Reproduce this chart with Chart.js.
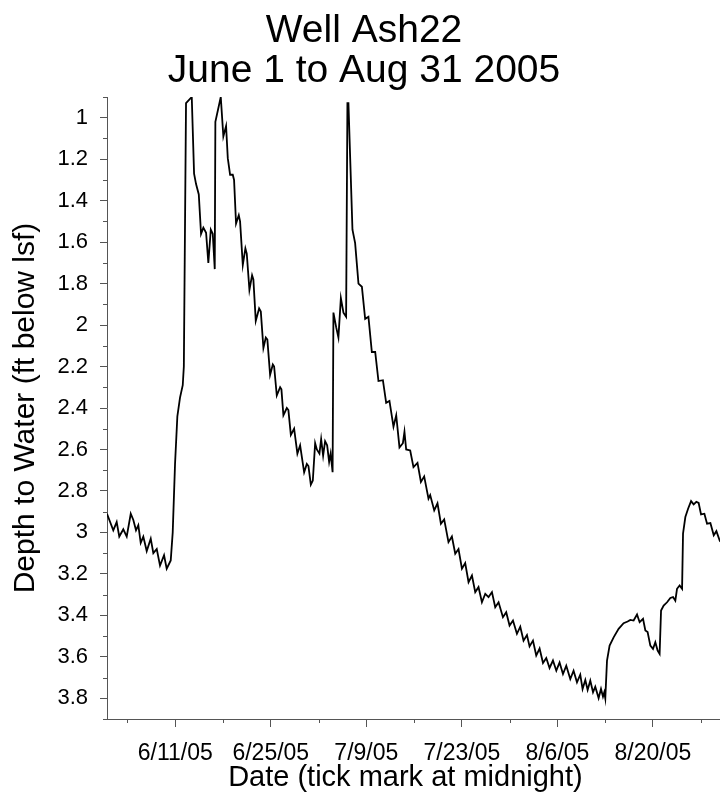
<!DOCTYPE html>
<html>
<head>
<meta charset="utf-8">
<title>Well Ash22</title>
<script src="https://cdn.jsdelivr.net/npm/chart.js@4.4.0/dist/chart.umd.min.js"></script>
<style>
  html, body { margin: 0; padding: 0; background: #fff; overflow: hidden; }
  #wrap { width: 720px; height: 800px; overflow: hidden; }
  canvas { display: block; }
</style>
</head>
<body>
<div id="wrap"><canvas id="chart" width="728" height="800"></canvas></div>
<script>
// days since June 1 2005 00:00 (about two points a day)
const days = [
  0.00, 0.92, 1.42, 1.80, 2.39, 2.89, 3.48, 3.86, 4.25, 4.59,
  4.94, 5.32, 5.82, 6.41, 6.79, 7.29, 7.77, 8.36, 8.75, 9.34,
  9.63, 9.97, 10.31, 10.70, 11.10, 11.26, 11.58, 12.42, 12.76, 13.05,
  13.45, 13.78, 14.12, 14.52, 14.85, 15.21, 15.50, 15.79, 15.88, 16.67,
  17.05, 17.45, 17.70, 18.04, 18.43, 18.62, 18.91, 19.31, 19.50, 19.90,
  20.28, 20.48, 20.87, 21.26, 21.45, 21.80, 22.29, 22.54, 22.92, 23.27,
  23.50, 23.90, 24.30, 24.49, 24.88, 25.37, 25.56, 25.85, 26.35, 26.58,
  26.94, 27.42, 27.90, 28.30, 28.89, 29.28, 29.52, 29.87, 30.16, 30.50,
  30.75, 31.13, 31.38, 31.67, 31.96, 32.26, 32.55, 32.77, 33.06, 33.18,
  33.58, 33.91, 34.27, 34.65, 35.04, 35.23, 35.38, 35.63, 35.97, 36.36,
  36.85, 37.35, 37.83, 38.31, 38.81, 39.30, 39.78, 40.43, 40.91, 41.39,
  41.98, 42.38, 42.86, 43.36, 43.59, 43.84, 44.43, 44.91, 45.50, 46.00,
  46.48, 47.11, 47.36, 47.95, 48.43, 48.93, 49.41, 50.04, 50.54, 51.03,
  51.51, 52.01, 52.49, 52.98, 53.48, 53.96, 54.44, 54.94, 55.43, 55.91,
  56.41, 56.89, 57.38, 58.02, 58.50, 58.99, 59.49, 60.07, 60.56, 61.04,
  61.54, 61.92, 62.42, 62.90, 63.39, 63.89, 64.37, 64.85, 65.35, 65.84,
  66.32, 66.82, 67.30, 67.89, 68.37, 68.87, 69.35, 69.69, 70.09, 70.43,
  70.82, 71.22, 71.55, 72.04, 72.39, 72.68, 72.87, 73.02, 73.27, 73.65,
  74.24, 74.97, 75.70, 76.29, 76.69, 77.17, 77.67, 78.05, 78.55, 78.89,
  79.22, 79.62, 80.01, 80.35, 80.69, 80.98, 81.19, 81.57, 82.07, 82.55,
  82.95, 83.28, 83.53, 83.91, 84.27, 84.41, 84.75, 85.15, 85.59, 85.97,
  86.36, 86.70, 87.05, 87.54, 87.93, 88.42, 88.91, 89.30, 89.78, 90.25
];
// depth to water (ft below lsf)
const depth = [
  2.91, 2.99, 2.95, 3.02, 2.985, 3.02, 2.91, 2.94, 2.99, 2.965,
  3.05, 3.02, 3.09, 3.03, 3.10, 3.08, 3.16, 3.11, 3.175, 3.135,
  3.00, 2.67, 2.44, 2.35, 2.29, 2.20, 0.93, 0.90, 1.27, 1.32,
  1.37, 1.56, 1.53, 1.555, 1.70, 1.54, 1.56, 1.73, 1.02, 0.90,
  1.09, 1.04, 1.195, 1.275, 1.275, 1.30, 1.51, 1.47, 1.50, 1.71,
  1.63, 1.655, 1.83, 1.76, 1.78, 1.98, 1.92, 1.935, 2.11, 2.06,
  2.07, 2.24, 2.19, 2.20, 2.34, 2.30, 2.31, 2.435, 2.40, 2.41,
  2.53, 2.50, 2.62, 2.58, 2.71, 2.67, 2.68, 2.77, 2.75, 2.57,
  2.60, 2.62, 2.55, 2.63, 2.56, 2.58, 2.66, 2.62, 2.71, 1.94,
  2.01, 2.06, 1.87, 1.94, 1.96, 0.93, 0.93, 1.19, 1.54, 1.605,
  1.80, 1.815, 1.97, 1.96, 2.13, 2.13, 2.27, 2.266, 2.375, 2.366,
  2.49, 2.435, 2.59, 2.57, 2.515, 2.60, 2.605, 2.685, 2.665, 2.757,
  2.73, 2.837, 2.82, 2.894, 2.86, 2.958, 2.937, 3.047, 3.02, 3.103,
  3.08, 3.175, 3.148, 3.24, 3.208, 3.288, 3.264, 3.337, 3.296, 3.312,
  3.288, 3.361, 3.337, 3.409, 3.385, 3.449, 3.425, 3.489, 3.455, 3.522,
  3.495, 3.55, 3.522, 3.594, 3.56, 3.63, 3.606, 3.654, 3.618, 3.667,
  3.627, 3.683, 3.643, 3.707, 3.667, 3.723, 3.686, 3.755, 3.712, 3.76,
  3.715, 3.771, 3.744, 3.799, 3.755, 3.792, 3.771, 3.80, 3.618, 3.546,
  3.506, 3.465, 3.438, 3.43, 3.422, 3.425, 3.396, 3.433, 3.417, 3.473,
  3.481, 3.546, 3.562, 3.53, 3.57, 3.586, 3.377, 3.353, 3.337, 3.316,
  3.312, 3.329, 3.272, 3.256, 3.272, 3.006, 2.926, 2.886, 2.849, 2.865,
  2.853, 2.858, 2.913, 2.91, 2.958, 2.955, 3.014, 2.994, 3.039, 3.02
];

// axis ticks
const dateTickDays = [10, 24, 38, 52, 66, 80];
const dateTickLabels = ['6/11/05', '6/25/05', '7/9/05', '7/23/05', '8/6/05', '8/20/05'];
const dateMinorDays = [3, 17, 31, 45, 59, 73, 87];
const depthTicks = [1, 1.2, 1.4, 1.6, 1.8, 2, 2.2, 2.4, 2.6, 2.8, 3, 3.2, 3.4, 3.6, 3.8];
const depthLabels = ['1', '1.2', '1.4', '1.6', '1.8', '2', '2.2', '2.4', '2.6', '2.8', '3', '3.2', '3.4', '3.6', '3.8'];
const depthMinor = [0.9, 1.1, 1.3, 1.5, 1.7, 1.9, 2.1, 2.3, 2.5, 2.7, 2.9, 3.1, 3.3, 3.5, 3.7, 3.9];

const axisColor = '#555555';
const fontFamily = "'Liberation Sans', Arial, sans-serif";

// short minor tick marks, placed through the scales
const minorTicks = {
  id: 'minorTicks',
  afterDraw(chart) {
    const ctx = chart.ctx;
    const x = chart.scales.x;
    const y = chart.scales.y;
    ctx.save();
    ctx.strokeStyle = axisColor;
    ctx.lineWidth = 1;
    ctx.beginPath();
    depthMinor.forEach(v => {
      const py = Math.round(y.getPixelForValue(v)) + 0.5;
      ctx.moveTo(y.right - 4, py);
      ctx.lineTo(y.right, py);
    });
    dateMinorDays.forEach(d => {
      const px = Math.round(x.getPixelForValue(d)) + 0.5;
      ctx.moveTo(px, x.top);
      ctx.lineTo(px, x.top + 4);
    });
    ctx.stroke();
    ctx.restore();
  }
};

let ctx = document.getElementById('chart').getContext('2d');
let chart = new Chart(ctx, {
  type: 'line',
  data: {
    datasets: [{
      label: 'Depth to Water',
      data: days.map((d, i) => ({x: d, y: depth[i]})),
      borderColor: '#000000',
      borderWidth: 1.8,
      pointRadius: 0,
      tension: 0,
      fill: false
    }]
  },
  options: {
    responsive: false,
    animation: false,
    devicePixelRatio: 1,
    layout: { padding: 0 },
    plugins: {
      legend: { display: false },
      tooltip: { enabled: false },
      title: {
        display: true,
        text: ['Well Ash22', 'June 1 to Aug 31 2005'],
        color: '#000',
        font: { family: fontFamily, size: 39, weight: 'normal', lineHeight: '40px' },
        padding: { top: 11, bottom: 6 }
      }
    },
    scales: {
      x: {
        type: 'linear',
        min: 0,
        max: 91,
        afterBuildTicks: s => { s.ticks = dateTickDays.map(v => ({value: v})); },
        afterFit: s => { s.height = 81; },
        ticks: {
          autoSkip: false,
          maxRotation: 0,
          padding: 13,
          color: '#000',
          font: { family: fontFamily, size: 23 },
          callback: (v, i) => dateTickLabels[i]
        },
        grid: { drawOnChartArea: false, tickLength: 8, tickColor: axisColor, tickWidth: 1 },
        border: { display: true, color: axisColor, width: 1 },
        title: {
          display: true,
          text: 'Date (tick mark at midnight)   ',
          color: '#000',
          font: { family: fontFamily, size: 29, lineHeight: 1.2 },
          padding: { top: 0, bottom: 5 }
        }
      },
      y: {
        type: 'linear',
        reverse: true,
        min: 0.9,
        max: 3.9,
        afterBuildTicks: s => { s.ticks = depthTicks.map(v => ({value: v})); },
        afterFit: s => { s.width = 107; },
        ticks: {
          padding: 12,
          color: '#000',
          font: { family: fontFamily, size: 22 },
          callback: (v, i) => depthLabels[i]
        },
        grid: { drawOnChartArea: false, tickLength: 7, tickColor: axisColor, tickWidth: 1 },
        border: { display: true, color: axisColor, width: 1 },
        title: {
          display: true,
          text: 'Depth to Water (ft below lsf)',
          color: '#000',
          font: { family: fontFamily, size: 30, lineHeight: 1.2 },
          padding: { top: 8, bottom: 0 }
        }
      }
    }
  },
  plugins: [minorTicks]
});
</script>
</body>
</html>
